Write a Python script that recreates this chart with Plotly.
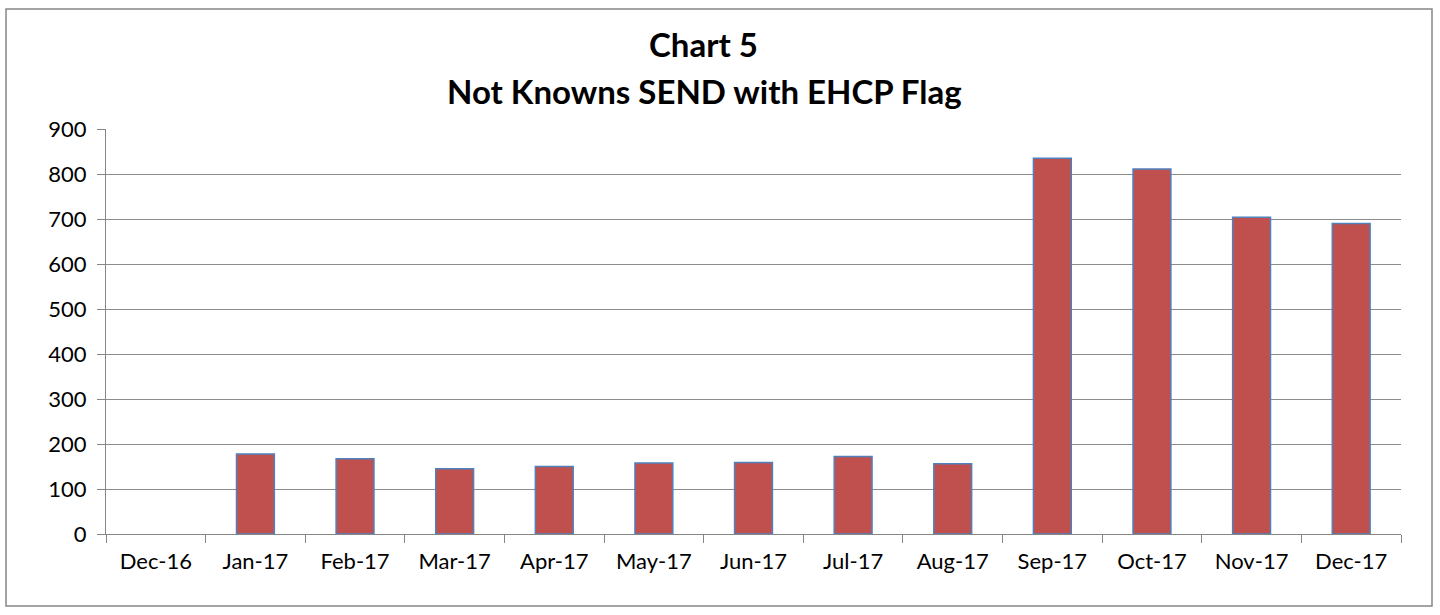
import plotly.graph_objects as go

months = ["Dec-16", "Jan-17", "Feb-17", "Mar-17", "Apr-17", "May-17", "Jun-17",
          "Jul-17", "Aug-17", "Sep-17", "Oct-17", "Nov-17", "Dec-17"]
values = [None, 178, 167, 145, 150, 158, 159, 172, 156, 835, 811, 704, 690]
y_ticks = [0, 100, 200, 300, 400, 500, 600, 700, 800, 900]
title_lines = ["Chart 5", "Not Knowns SEND with EHCP Flag"]

FONT = "Lato, Carlito, 'Open Sans', sans-serif"

fig = go.Figure()
fig.add_trace(go.Bar(
    x=months, y=values,
    marker=dict(color="#C0504D", line=dict(color="#4F81BD", width=1.5)),
    width=0.38,
))

L, R, T, B = 106, 1401, 129, 534
W, H = 1440, 615
pw, ph = R - L, B - T


def py(pix):
    return (B - pix) / ph


def px(pix):
    return (pix - L) / pw


fig.update_layout(
    width=W, height=H,
    margin=dict(l=L, r=W - R, t=T, b=H - B),
    paper_bgcolor="white", plot_bgcolor="white",
    showlegend=False,
    font=dict(family=FONT, size=22, color="black"),
    xaxis=dict(type="category", showline=True, linecolor="#868686", linewidth=1,
               ticks="outside", tickson="boundaries", ticklen=8, tickcolor="#868686",
               showgrid=False, tickfont=dict(size=22), ticklabelstandoff=8),
    yaxis=dict(range=[0, 900], tickvals=y_ticks, showline=True, linecolor="#868686",
               linewidth=1, ticks="outside", ticklen=8, tickcolor="#868686",
               showgrid=True, gridcolor="#8c8c8c", gridwidth=1, zeroline=False,
               tickfont=dict(size=22), ticklabelstandoff=6),
    shapes=[dict(type="rect", xref="paper", yref="paper",
                 x0=px(6), x1=px(1432),
                 y0=py(606), y1=py(9),
                 line=dict(color="#868686", width=1.5), fillcolor="rgba(0,0,0,0)",
                 layer="below")],
    annotations=[
        dict(text=f"<b>{title_lines[0]}</b>", xref="paper", yref="paper",
             x=px(703), y=py(44), xanchor="center", yanchor="middle",
             showarrow=False, font=dict(family=FONT, size=33, color="black")),
        dict(text=f"<b>{title_lines[1]}</b>", xref="paper", yref="paper",
             x=px(704), y=py(91), xanchor="center", yanchor="middle",
             showarrow=False, font=dict(family=FONT, size=33, color="black")),
    ],
)

fig.write_html("out.html", config={"displayModeBar": False},
               post_script="document.body.style.margin='0px';")
